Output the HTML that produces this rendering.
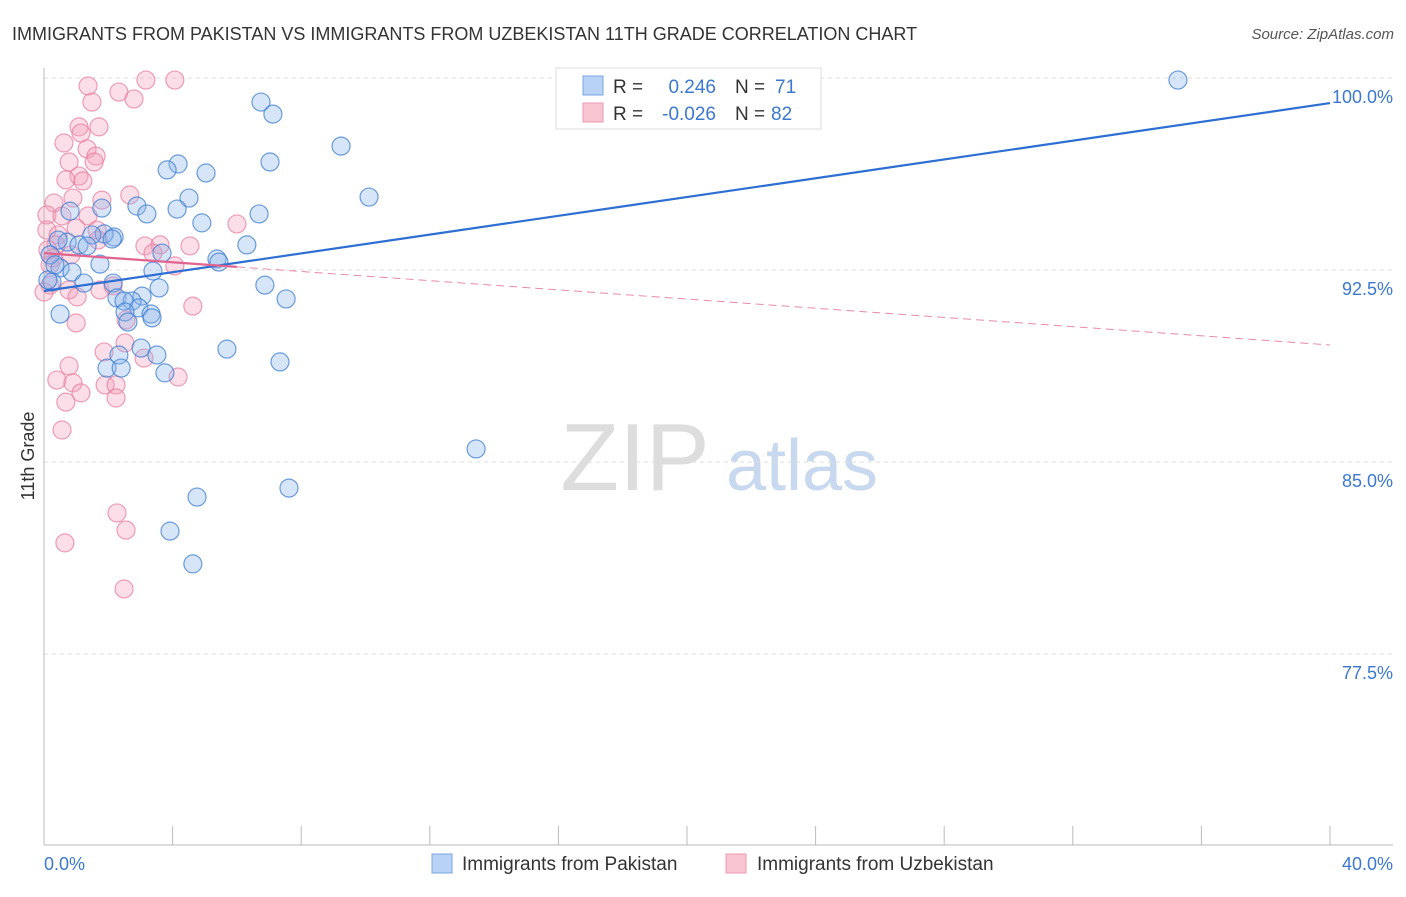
<!DOCTYPE html>
<html><head><meta charset="utf-8"><style>
body{margin:0;background:#fff;font-family:"Liberation Sans",sans-serif;}
svg text{font-family:"Liberation Sans",sans-serif;}
</style></head><body>
<svg id="chart" width="1406" height="892" xmlns="http://www.w3.org/2000/svg">
<text x="12" y="40" font-size="18" fill="#333">IMMIGRANTS FROM PAKISTAN VS IMMIGRANTS FROM UZBEKISTAN 11TH GRADE CORRELATION CHART</text>
<text x="1394" y="39" font-size="15" fill="#555" text-anchor="end" font-style="italic">Source: ZipAtlas.com</text>
<text transform="translate(34,456) rotate(-90)" font-size="18" fill="#333" text-anchor="middle">11th Grade</text>
<g>
<text x="635" y="490" font-size="96" fill="#ddd" text-anchor="middle" font-family="Liberation Serif, serif">ZIP</text>
<text x="802" y="490" font-size="72" fill="#c8d8ee" text-anchor="middle">atlas</text>
</g>
<g id="grid"></g><g id="axes"></g><g id="pts"></g><g id="trend"></g>
<g>
<rect x="556" y="68" width="265" height="61" fill="#fff" stroke="#ddd"/>
<rect x="583" y="76" width="20" height="19" fill="#b8d2f5" stroke="#7aa6e0"/>
<rect x="583" y="103" width="20" height="19" fill="#f9c4d2" stroke="#eb9ab3"/>
<text x="613" y="93" font-size="19" fill="#333">R =</text>
<text x="716" y="93" font-size="19" fill="#3b78d0" text-anchor="end">0.246</text>
<text x="735" y="93" font-size="19" fill="#333">N =</text>
<text x="775" y="93" font-size="19" fill="#3b78d0">71</text>
<text x="613" y="120" font-size="19" fill="#333">R =</text>
<text x="716" y="120" font-size="19" fill="#3b78d0" text-anchor="end">-0.026</text>
<text x="735" y="120" font-size="19" fill="#333">N =</text>
<text x="771" y="120" font-size="19" fill="#3b78d0">82</text>
</g>
<g>
<rect x="432" y="854" width="20" height="19" fill="#b8d2f5" stroke="#7aa6e0"/>
<text x="462" y="870" font-size="19" fill="#333">Immigrants from Pakistan</text>
<rect x="726" y="854" width="20" height="19" fill="#f9c4d2" stroke="#eb9ab3"/>
<text x="757" y="870" font-size="19" fill="#333">Immigrants from Uzbekistan</text>
</g>
</svg>
<script>
const yTicks=[100,92.5,85,77.5];
const yTickLabels=["100.0%","92.5%","85.0%","77.5%"];
const xTickLabels=["0.0%","40.0%"];
const blueX=[35.27,16.36,6.75,7.12,9.24,7.03,4.17,3.83,5.04,10.11,4.51,1.80,2.89,3.20,4.14,6.69,4.91,0.81,6.31,2.18,1.87,1.49,0.72,1.09,1.34,0.44,3.67,5.38,5.44,1.74,3.39,0.50,0.87,0.25,1.24,6.87,3.58,2.15,3.05,2.27,2.74,2.49,7.53,2.95,2.52,3.33,3.36,2.61,0.50,3.02,5.69,3.51,2.33,7.34,1.96,2.40,3.76,13.44,7.62,4.76,3.92,4.63,0.12,0.19,0.34,2.12];
const blueY=[99.92,99.92,99.06,98.59,97.34,96.72,96.64,96.41,96.29,95.35,95.31,94.92,95.0,94.69,94.88,94.69,94.34,94.80,93.48,93.79,93.91,93.87,93.59,93.48,93.44,93.67,93.16,92.93,92.81,92.73,92.46,92.58,92.42,92.03,91.99,91.91,91.80,91.99,91.48,91.41,91.29,91.29,91.37,91.02,90.86,90.78,90.63,90.47,90.78,89.45,89.41,89.18,89.18,88.91,88.67,88.67,88.48,85.51,83.98,83.63,82.30,81.02,92.11,93.09,92.70,93.71];
const pinkX=[1.37,2.33,3.17,4.07,1.49,2.80,1.09,1.71,1.15,0.62,1.34,1.62,0.78,1.56,1.09,0.68,1.21,2.67,1.80,0.90,0.31,0.09,0.56,1.37,0.09,0.44,1.00,1.65,0.37,0.12,0.84,0.28,3.14,3.61,4.54,6.00,3.39,1.68,1.74,0.78,2.15,1.03,1.00,2.55,2.52,1.87,3.11,0.78,0.40,0.90,1.90,2.24,2.24,1.15,0.68,4.17,0.56,2.27,2.55,0.65,2.49,4.63,4.07,0.19,0.19,0.0];
const pinkY=[99.69,99.45,99.92,99.92,99.06,99.18,98.09,98.09,97.85,97.46,97.23,96.95,96.72,96.72,96.17,96.02,95.98,95.43,95.23,95.31,95.12,94.65,94.61,94.61,94.06,93.87,94.14,94.06,93.48,93.28,93.09,92.97,93.44,93.48,93.44,94.30,93.16,93.67,91.72,91.72,91.88,91.45,90.43,90.55,89.65,89.30,89.06,88.75,88.20,88.09,88.01,88.01,87.50,87.70,87.34,88.32,86.25,83.01,82.34,81.84,80.04,91.09,92.66,92.70,91.91,91.64];
const blueTrend=[91.68,99.02];
const pinkTrend=[93.16,89.57];
const pinkSolidEnd=6;
const NS="http://www.w3.org/2000/svg";
const X=v=>44+v*(1286/40);
const Y=v=>78+(100-v)*25.6;
function mk(p,t,a){const e=document.createElementNS(NS,t);for(const k in a)e.setAttribute(k,a[k]);document.getElementById(p).appendChild(e);return e;}
yTicks.forEach((t,i)=>{
 const g=mk('grid','line',{x1:44,x2:1393,y1:Y(t),y2:Y(t),stroke:'#ddd','stroke-dasharray':'4,4'});
 
 
 const l=mk('grid','text',{x:1393,y:Y(t)+25,'font-size':18,fill:'#3b78d0','text-anchor':'end'});
 l.textContent=yTickLabels[i];
 
 
});
const ya=mk('axes','line',{x1:44,x2:44,y1:68,y2:845,stroke:'#bbb'});


const xa=mk('axes','line',{x1:44,x2:1393,y1:845,y2:845,stroke:'#bbb'});


for(let v=0;v<=40;v+=4){
 const t=mk('axes','line',{x1:X(v),x2:X(v),y1:826,y2:845,stroke:'#bbb'});
 
 
}
[[0,'start',44],[40,'end',1393]].forEach((a,i)=>{
 const l=mk('axes','text',{x:a[2],y:870,'font-size':18,fill:'#3b78d0','text-anchor':a[1]});
 l.textContent=xTickLabels[i];
 
 
});
pinkX.forEach((v,i)=>{
 const c=mk('pts','circle',{cx:X(v),cy:Y(pinkY[i]),r:9,fill:'rgba(244,160,185,0.35)',stroke:'rgba(232,120,155,0.7)','stroke-width':1.2});
 
 
});
blueX.forEach((v,i)=>{
 const c=mk('pts','circle',{cx:X(v),cy:Y(blueY[i]),r:9,fill:'rgba(140,180,235,0.35)',stroke:'rgba(60,125,210,0.75)','stroke-width':1.2});
 
 
});
const bt=mk('trend','line',{x1:X(0),y1:Y(blueTrend[0]),x2:X(40),y2:Y(blueTrend[1]),stroke:'#2d6fd2','stroke-width':2.2});


const py=x=>pinkTrend[0]+(pinkTrend[1]-pinkTrend[0])*x/40;
const ps=mk('trend','line',{x1:X(0),y1:Y(py(0)),x2:X(pinkSolidEnd),y2:Y(py(pinkSolidEnd)),stroke:'#e0648e','stroke-width':2.2});


const pd=mk('trend','line',{x1:X(pinkSolidEnd),y1:Y(py(pinkSolidEnd)),x2:X(40),y2:Y(py(40)),stroke:'#e88aa8','stroke-width':1,'stroke-dasharray':'8,5'});


</script>
</body></html>
